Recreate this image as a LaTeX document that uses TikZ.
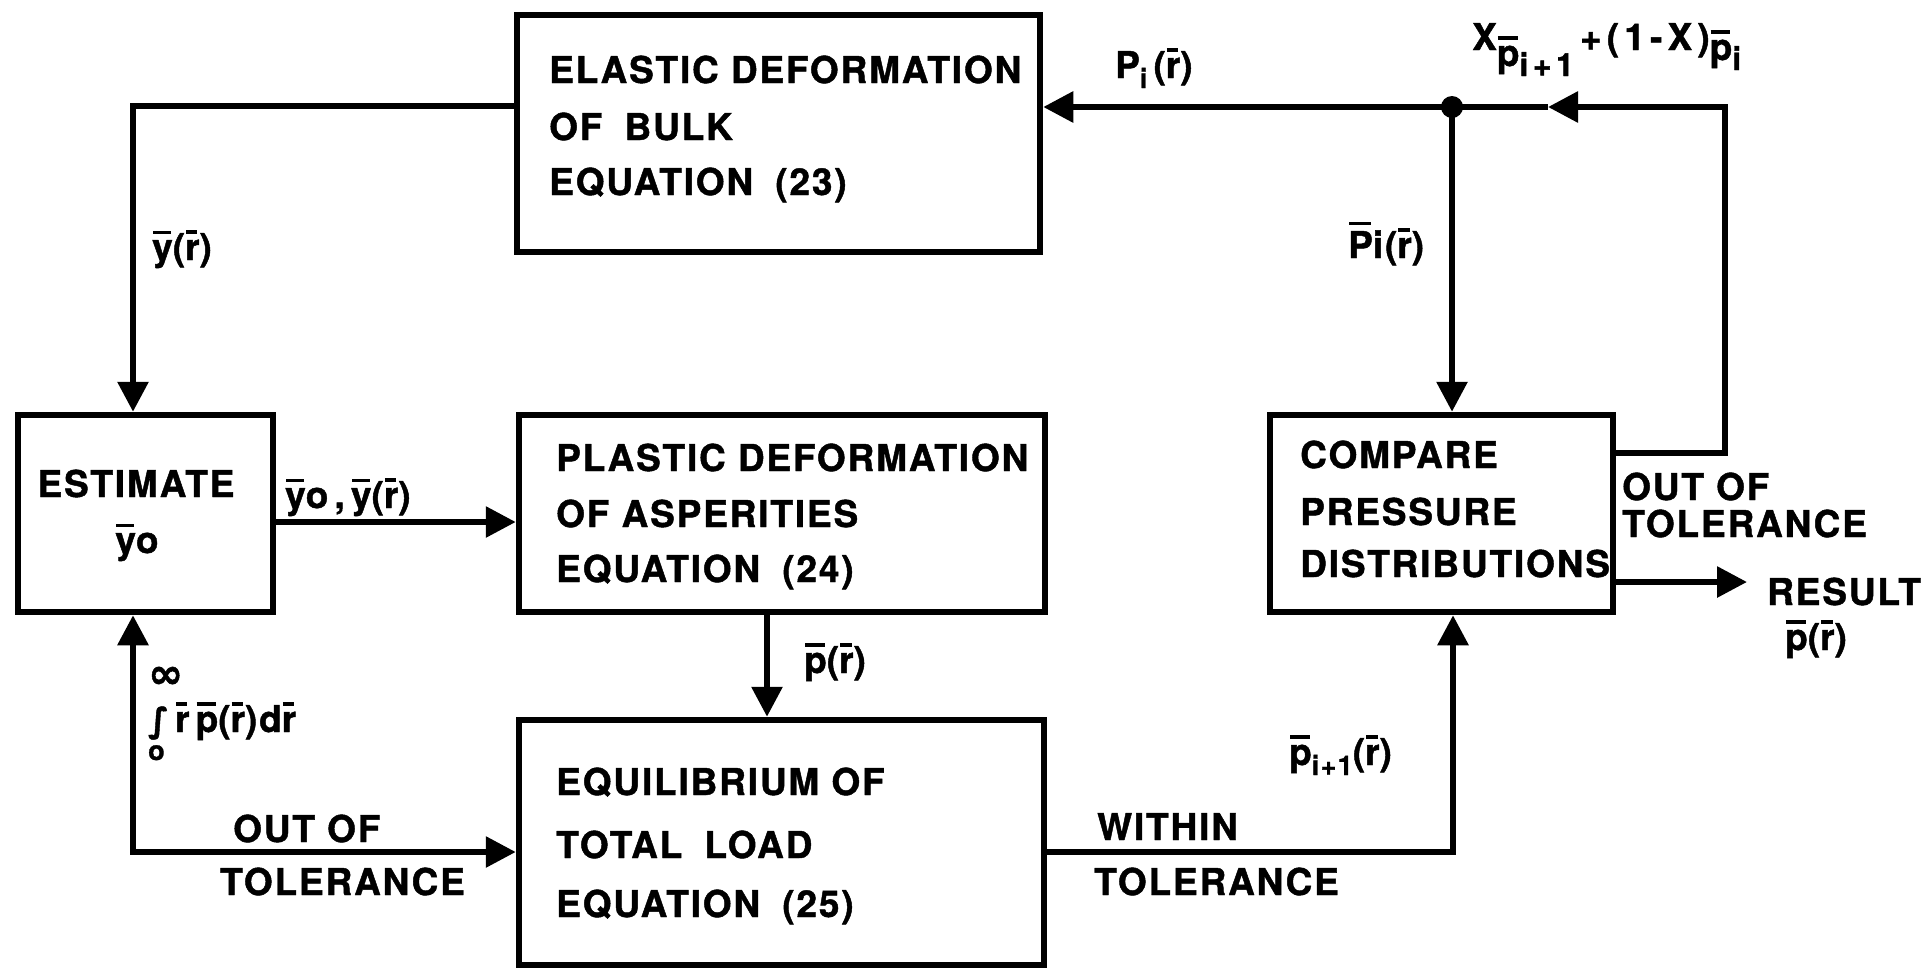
\documentclass[tikz,border=0pt]{standalone}
\usepackage{fontspec}
\setmainfont{TeX Gyre Heros}[LetterSpace=5, BoldFeatures={FakeBold=1.2}]
\newfontfamily\dvs{DejaVu Sans}[BoldFeatures={FakeBold=1.2}]
\usetikzlibrary{arrows.meta}
\newcommand{\ob}[1]{\leavevmode\setbox0=\hbox{#1}\rlap{\raise\dimexpr\ht0+6pt\relax\hbox{\kern1pt\vrule width\dimexpr\wd0-3pt\relax height 3.5pt depth 0pt}}\box0}
\newcommand{\sbs}[1]{\raisebox{-10pt}{\fontsize{27}{30}\selectfont #1}}
\newcommand{\sbl}[1]{\raisebox{-10pt}{\fontsize{32}{34}\selectfont #1}}
\tikzset{
  box/.style={draw, line width=6.5pt, inner sep=0pt},
  txt/.style={font=\bfseries\fontsize{37}{44}\selectfont, inner sep=0pt, anchor=base west},
  ctxt/.style={txt, anchor=base},
  ln/.style={line width=6pt},
  arr/.style={ln, -{Triangle[length=30pt,width=30pt]}},
  arrtwo/.style={ln, {Triangle[length=30pt,width=30pt]}-{Triangle[length=30pt,width=30pt]}},
}
\begin{document}
\begin{tikzpicture}[x=1pt,y=-1pt]
\useasboundingbox (0,0) rectangle (1924,967);
% boxes
\node[box, minimum width=523pt, minimum height=237pt] (elastic) at (778.5,133.5) {};
\node[box, minimum width=255pt, minimum height=197pt] (estimate) at (145.5,513.5) {};
\node[box, minimum width=526pt, minimum height=197pt] (plastic) at (782,513.5) {};
\node[box, minimum width=525pt, minimum height=245pt] (equil) at (781.5,842.5) {};
\node[box, minimum width=343pt, minimum height=197pt] (compare) at (1441.5,513.5) {};
% box texts
\node[txt] (el1) at (549,83) {ELASTIC DEFORMATION};
\node[txt] (el2) at (549,140) {OF\hspace{10pt} BULK};
\node[txt] (el3) at (549,195) {EQUATION\hspace{10pt} (23)};
\node[ctxt] (es1) at (136,497) {ESTIMATE};
\node[ctxt] (es2) at (137,553) {\ob{y}o};
\node[txt] (pl1) at (556,471) {PLASTIC DEFORMATION};
\node[txt] (pl2) at (556,527) {OF ASPERITIES};
\node[txt] (pl3) at (556,582) {EQUATION\hspace{10pt} (24)};
\node[txt] (eq1) at (556,795) {EQUILIBRIUM OF};
\node[txt] (eq2) at (556,858) {TOTAL\hspace{10pt} LOAD};
\node[txt] (eq3) at (556,917) {EQUATION\hspace{10pt} (25)};
\node[txt] (co1) at (1300,468) {COMPARE};
\node[txt] (co2) at (1300,525) {PRESSURE};
\node[txt] (co3) at (1300,577) {DISTRIBUTIONS};
% coordinates
\coordinate (c1) at (133,106);
\coordinate (ep) at (273,522);
\coordinate (pe) at (767,612);
\coordinate (c2) at (133,852);
\coordinate (c3) at (1453,852);
\coordinate (j) at (1452,107);
\coordinate (c4) at (1725,107);
\coordinate (m) at (1548,107);
\coordinate (c5) at (1725,453);
\coordinate (res) at (1747,582);
% connectors
\draw[arr] (c1 -| elastic.west) -- (c1) -- (c1 |- estimate.north);
\draw[arr] (ep -| estimate.east) -- (ep -| plastic.west);
\draw[arr] (pe |- plastic.south) -- (pe |- equil.north);
\draw[arrtwo] (c2 |- estimate.south) -- (c2) -- (c2 -| equil.west);
\draw[arr] (c3 -| equil.east) -- (c3) -- (c3 |- compare.south);
\draw[arr] (c5 -| compare.east) -- (c5) -- (c4) -- (m);
\draw[ln] (m) -- (j);
\draw[arr] (j) -- (j -| elastic.east);
\draw[arr] (j) -- (j |- compare.north);
\fill (j) circle (11pt);
\draw[arr] (res -| compare.east) -- (res);
% labels
\node[txt] (l1) at (152,260) {\ob{y}(\ob{r})};
\node[txt] (l2) at (285,508) {\ob{y}o\,,\,\ob{y}(\ob{r})};
\node[txt] (l3) at (804,673) {\ob{p}(\ob{r})};
\node[txt] (l4) at (148,732) {\rlap{\raisebox{44pt}{\dvs\fontsize{42}{42}\selectfont ∞}}\rlap{\raisebox{-28pt}{\fontsize{27}{30}\selectfont o}}{\dvs\fontsize{34}{34}\selectfont ∫}\,\ob{r}\,\ob{p}(\ob{r})d\ob{r}};
\node[txt] (l5) at (233,842) {OUT OF};
\node[txt] (l6) at (220,895) {TOLERANCE};
\node[txt] (l7) at (1097,840) {WITHIN};
\node[txt] (l8) at (1094,895) {TOLERANCE};
\node[txt] (l9) at (1289,765) {\ob{p}\sbs{i+1}(\ob{r})};
\node[txt] (l10) at (1348,258) {\ob{P}i(\ob{r})};
\node[txt] (l11) at (1115,78) {P\sbs{i}\,(\ob{r})};
\node[txt] (l12) at (1472,50) {\addfontfeature{LetterSpace=14}X\raisebox{-16pt}{\ob{p}\sbl{i+1}}\,+(1-X)\raisebox{-10pt}{\ob{p}\sbl{i}}};
\node[txt] (l13) at (1622,500) {OUT OF};
\node[txt] (l14) at (1622,537) {TOLERANCE};
\node[txt] (l15) at (1767,605) {RESULT};
\node[txt] (l16) at (1785,650) {\ob{p}(\ob{r})};
\end{tikzpicture}
\end{document}
